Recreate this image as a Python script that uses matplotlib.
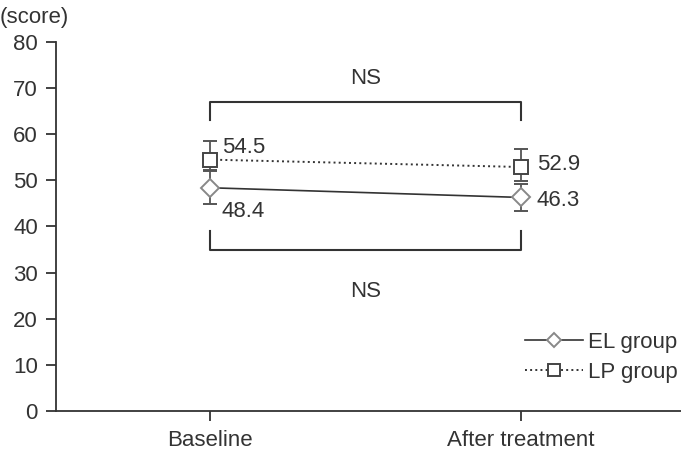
import numpy as np
import matplotlib.pyplot as plt
from matplotlib.lines import Line2D

plt.rcParams['font.family'] = ['Liberation Sans', 'DejaVu Sans']

groups = ['Baseline', 'After treatment']
el_mean = [48.4, 46.3]
el_err_low = [3.6, 3.0]
el_err_high = [3.6, 3.0]
lp_mean = [54.5, 52.9]
lp_err_low = [2.3, 3.0]
lp_err_high = [4.1, 3.8]

fig = plt.figure(figsize=(6.81, 4.51), dpi=100)
ax = fig.add_axes([56 / 681, 1 - 411 / 451, 1 - 56 / 681, (411 - 42) / 451])

x = np.arange(len(groups))
dark = '#333333'
grey = '#555555'
fs = 16
ax.errorbar(x, el_mean, yerr=[el_err_low, el_err_high], fmt='-', color=dark, ecolor=grey,
            elinewidth=1.3, capsize=5, capthick=1.3, lw=1.2, marker='D', ms=9, mfc='white',
            mec='#888888', mew=1.4, zorder=3)
ax.errorbar(x, lp_mean, yerr=[lp_err_low, lp_err_high], fmt=':', color=dark, ecolor=grey,
            elinewidth=1.3, capsize=5, capthick=1.3, lw=1.4, marker='s', ms=9.5, mfc='white',
            mec='#444444', mew=1.4, zorder=3)

lp_off = [(8.5, 9), (11.5, 1.5)]
el_off = [(8.5, -17), (11.5, -2.5)]
for xi, v, off in zip(x, lp_mean, lp_off):
    ax.annotate(f'{v}', (xi, v), xytext=off, textcoords='offset points',
                fontsize=fs, color=dark, va='center')
for xi, v, off in zip(x, el_mean, el_off):
    ax.annotate(f'{v}', (xi, v), xytext=off, textcoords='offset points',
                fontsize=fs, color=dark, va='center')

# significance brackets
ax.plot([0, 0, 1, 1], [63, 67, 67, 63], color=dark, lw=1.5)
ax.plot([0, 0, 1, 1], [39, 35, 35, 39], color=dark, lw=1.5)
ax.text(0.5, 72, 'NS', ha='center', va='center', fontsize=fs, color=dark)
ax.text(0.5, 26, 'NS', ha='center', va='center', fontsize=fs, color=dark)

ax.set_xlim(-0.495, 1.515)
ax.set_ylim(0, 80)
ax.set_yticks(range(0, 81, 10))
ax.set_xticks(x)
ax.set_xticklabels(groups)
for s in ['top', 'right']:
    ax.spines[s].set_visible(False)
for s in ['left', 'bottom']:
    ax.spines[s].set_color(dark)
    ax.spines[s].set_linewidth(1.3)
ax.tick_params(colors=dark, labelsize=fs, width=1.3, length=7, labelcolor=dark)
ax.tick_params(axis='y', pad=6)
ax.tick_params(axis='x', pad=7)
fig.text(0.0, 1 - 17 / 451, '(score)', fontsize=fs, color=dark, ha='left', va='center')

handles = [
    Line2D([], [], ls='-', color=dark, lw=1.2, marker='D', ms=7.5, mfc='white',
           mec='#888888', mew=1.4),
    Line2D([], [], ls=':', color=dark, lw=1.4, marker='s', ms=8.5, mfc='white',
           mec='#444444', mew=1.4),
]
ax.legend(handles, ['EL group', 'LP group'], loc='center right',
          bbox_to_anchor=(1.012, 0.145), frameon=False, fontsize=fs, handlelength=2.6,
          labelcolor=dark, borderpad=0, handletextpad=0.2, labelspacing=0.4)

fig.savefig('out.png', dpi=100)
